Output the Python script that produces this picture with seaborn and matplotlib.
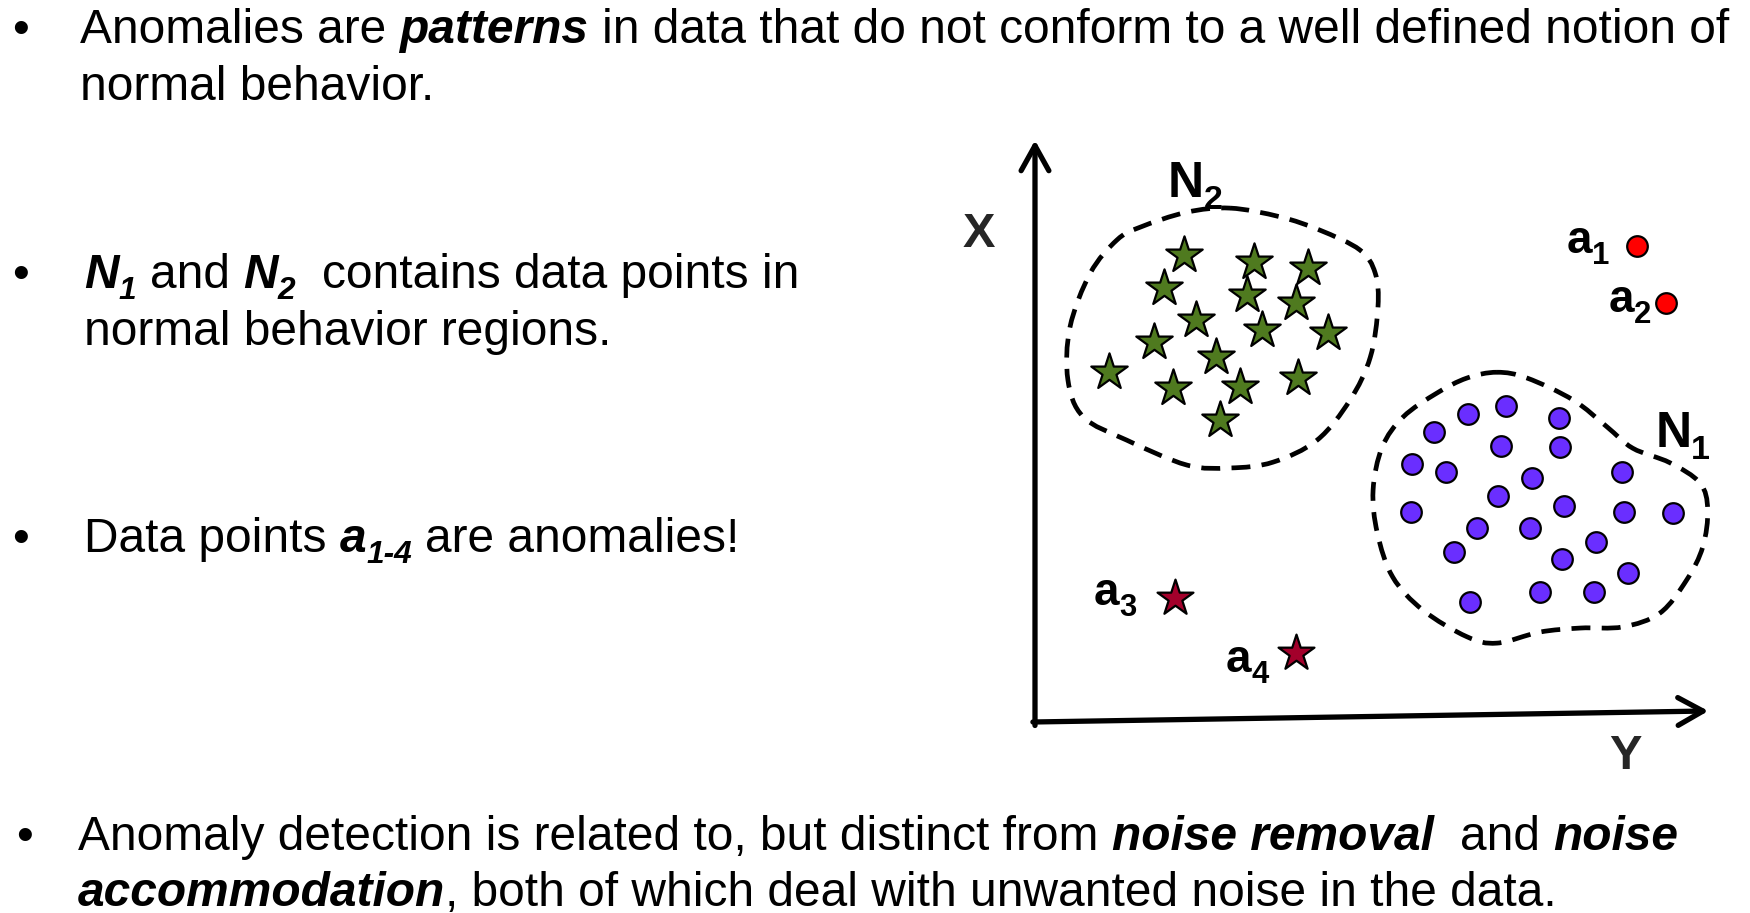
import numpy as np
import matplotlib
matplotlib.use("Agg")
import matplotlib.pyplot as plt
import seaborn as sns
from matplotlib.path import Path
from matplotlib.patches import PathPatch
from matplotlib.transforms import IdentityTransform

# ---------------- data (horizontal axis = feature "Y", vertical axis = feature "X") ----------------
n2_h = [21.3, 31.3, 39.0, 18.4, 30.3, 37.3, 23.0, 32.4, 41.9, 17.0, 25.9, 10.6, 19.7, 29.3, 37.6, 26.4]
n2_v = [80.5, 79.3, 78.3, 74.8, 73.6, 72.2, 69.3, 67.6, 67.1, 65.5, 62.9, 60.3, 57.6, 57.8, 59.3, 52.1]

n1_h = [61.9, 67.3, 74.9, 57.0, 66.6, 75.0, 53.9, 58.7, 71.0, 83.9, 66.1, 53.7,
        75.6, 84.1, 91.1, 63.1, 70.7, 80.1, 59.9, 75.3, 84.7, 72.1, 79.9, 62.1]
n1_v = [53.1, 54.5, 52.4, 50.0, 47.6, 47.4, 44.5, 43.1, 42.1, 43.1, 39.0, 36.2,
        37.2, 36.2, 36.0, 33.4, 33.4, 31.0, 29.3, 28.1, 25.7, 22.4, 22.4, 20.7]

anom_circle_h = [86.0, 90.1]   # a1, a2
anom_circle_v = [82.1, 72.2]
anom_star_h = [20.0, 37.3]     # a3, a4
anom_star_v = [21.4, 11.9]

# region outlines (N2, N1)
n2_out_h = [27.9, 35.0, 40.7, 46.4, 48.6, 49.0, 47.9, 45.0, 40.3, 34.0, 27.9, 21.7,
            13.1, 6.9, 4.7, 5.0, 7.9, 11.7, 15.0, 21.7]
n2_out_v = [88.6, 87.1, 84.8, 81.4, 77.4, 71.6, 62.9, 55.5, 48.6, 44.8, 43.8, 44.3,
            48.6, 52.6, 59.0, 68.1, 77.4, 83.1, 85.3, 87.9]
n1_out_h = [66.0, 70.3, 76.9, 81.7, 85.4, 90.7, 95.0, 96.1, 95.4, 93.1, 89.3, 84.0,
            77.9, 72.1, 66.0, 61.7, 55.4, 51.1, 48.9, 48.3, 49.6, 52.6, 57.4, 61.7]
n1_out_v = [60.3, 59.3, 55.5, 50.9, 47.2, 44.7, 41.2, 36.6, 30.2, 24.5, 18.8, 16.4,
            16.2, 15.5, 13.6, 14.7, 19.3, 25.0, 32.6, 40.0, 47.4, 52.6, 56.7, 59.3]

# labels
labels_main = ["a", "a", "a", "a", "N", "N"]
labels_sub = ["1", "2", "3", "4", "2", "1"]
labels_h = [76.0, 81.9, 8.4, 27.3, 18.9, 88.6]
labels_v = [80.9, 70.7, 20.2, 8.6, 90.5, 47.4]

# ---------------- style ----------------
sns.set_theme(style="white")
plt.rcParams["font.family"] = ["Liberation Sans", "DejaVu Sans"]

GREEN = "#4F7A1F"
PURPLE = "#6A2EFF"
RED = "#FF0000"
CRIMSON = "#A3002B"
BODY = 34.5

W, H = 1750, 913
fig = plt.figure(figsize=(W / 100, H / 100), dpi=100)
fig.patch.set_facecolor("white")
ax = fig.add_axes([1035 / W, (H - 722) / H, 700 / W, 580 / H])
ax.set_xlim(0, 100)
ax.set_ylim(0, 100)
ax.axis("off")

renderer = fig.canvas.get_renderer()
STY = {"r": ("normal", "normal"), "b": ("bold", "normal"), "bi": ("bold", "italic")}


def text_w(s, size, weight, style):
    t = fig.text(0, 0, s, fontsize=size, fontweight=weight, fontstyle=style,
                 transform=IdentityTransform())
    w = t.get_window_extent(renderer).width
    t.remove()
    return w


def rich(x, y, segs, size, sub_scale=0.66, sub_drop=0.22):
    """x, y: display pixels (baseline)."""
    cx = x
    for seg in segs:
        s, st = seg[0], seg[1]
        sub = len(seg) > 2 and seg[2]
        weight, style = STY[st]
        fs = size * sub_scale if sub else size
        yy = y - (size * sub_drop * 100 / 72 if sub else 0)
        core = s.strip(" ")
        lead = len(s) - len(s.lstrip(" "))
        trail = len(s) - len(s.rstrip(" "))
        sw = text_w("a a", fs, weight, style) - text_w("aa", fs, weight, style)
        cx += lead * sw
        if core:
            t = fig.text(cx, yy, core, fontsize=fs, fontweight=weight, fontstyle=style,
                         transform=IdentityTransform(), va="baseline", ha="left", color="black")
            cx += t.get_window_extent(renderer).width
        cx += trail * sw
    return cx


def slide_line(x, ytop, segs, size=BODY, bullet=None):
    if bullet is not None:
        fig.text(bullet, H - ytop, "•", fontsize=size, transform=IdentityTransform(),
                 va="baseline", ha="center", color="black")
    rich(x, H - ytop, segs, size)


# ---------------- slide text ----------------
slide_line(80, 43, [("Anomalies are ", "r"), ("patterns", "bi"),
                    (" in data that do not conform to a well defined notion of", "r")], bullet=21)
slide_line(80, 100, [("normal behavior.", "r")])
slide_line(84, 288, [("N", "bi"), ("1", "bi", True), (" and ", "r"), ("N", "bi"), ("2", "bi", True),
                     ("  contains data points in", "r")], bullet=21)
slide_line(84, 345, [("normal behavior regions.", "r")])
slide_line(84, 552, [("Data points ", "r"), ("a", "bi"), ("1-4", "bi", True), (" are anomalies!", "r")],
           bullet=21)
slide_line(78, 850, [("Anomaly detection is related to, but distinct from ", "r"), ("noise removal", "bi"),
                     ("  and ", "r"), ("noise", "bi")], bullet=25)
slide_line(78, 906, [("accommodation", "bi"), (", both of which deal with unwanted noise in the data.", "r")])


# ---------------- outlines ----------------
def smooth_closed(h, v):
    P = np.column_stack([h, v])
    n = len(P)
    verts = [P[0]]
    codes = [Path.MOVETO]
    for i in range(n):
        p0, p1, p2, p3 = P[i - 1], P[i], P[(i + 1) % n], P[(i + 2) % n]
        verts += [p1 + (p2 - p0) / 6, p2 - (p3 - p1) / 6, p2]
        codes += [Path.CURVE4] * 3
    return Path(verts, codes)


for oh, ov in [(n2_out_h, n2_out_v), (n1_out_h, n1_out_v)]:
    ax.add_patch(PathPatch(smooth_closed(oh, ov), facecolor="none", edgecolor="black",
                           lw=3.4, linestyle=(0, (4.0, 2.4)), capstyle="butt",
                           clip_on=False, zorder=2))

# ---------------- axes arrows ----------------
arrow = dict(arrowstyle="->,head_length=0.9,head_width=0.5", lw=3.8, color="black",
             shrinkA=0, shrinkB=0, mutation_scale=20)
ax.annotate("", xy=(0, 100.3), xytext=(0, -0.6), arrowprops=arrow, annotation_clip=False)
ax.annotate("", xy=(96.2, 1.9), xytext=(-0.3, 0), arrowprops=arrow, annotation_clip=False)

# ---------------- points ----------------
sns.scatterplot(x=n2_h, y=n2_v, marker="*", s=760, color=GREEN, edgecolor="black",
                linewidth=1.6, ax=ax, zorder=3, clip_on=False)
sns.scatterplot(x=n1_h, y=n1_v, marker="o", s=220, color=PURPLE, edgecolor="black",
                linewidth=1.6, ax=ax, zorder=3, clip_on=False)
sns.scatterplot(x=anom_circle_h, y=anom_circle_v, marker="o", s=220, color=RED, edgecolor="black",
                linewidth=1.6, ax=ax, zorder=3, clip_on=False)
sns.scatterplot(x=anom_star_h, y=anom_star_v, marker="*", s=740, color=CRIMSON, edgecolor="black",
                linewidth=1.6, ax=ax, zorder=3, clip_on=False)

# ---------------- labels ----------------
for m, sb, lh, lv in zip(labels_main, labels_sub, labels_h, labels_v):
    px, py = ax.transData.transform((lh, lv))
    size = 36 if m == "N" else 33
    rich(px, py, [(m, "b"), (sb, "b", True)], size, sub_scale=0.68, sub_drop=0.24)

ax.text(-8.1, 84.1, "X", fontsize=35, fontweight="bold", ha="center", va="center")
ax.text(84.4, -6.0, "Y", fontsize=35, fontweight="bold", ha="center", va="center")

fig.savefig("out.png", dpi=100, facecolor="white")
